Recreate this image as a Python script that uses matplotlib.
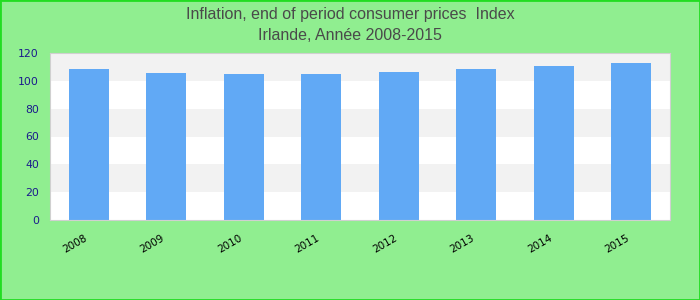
import numpy as np
import matplotlib
matplotlib.use("Agg")
import matplotlib.pyplot as plt
from matplotlib.patches import Rectangle
from matplotlib.transforms import ScaledTranslation

years = ["2008", "2009", "2010", "2011", "2012", "2013", "2014", "2015"]
values = [108.4, 105.5, 104.8, 104.8, 106.2, 108.4, 110.6, 112.7]
yticks = [0, 20, 40, 60, 80, 100, 120]

fig = plt.figure(figsize=(7, 3), dpi=100, facecolor="#90ee90")
ax = fig.add_axes([50/700, 80/300, 620/700, 167/300])
ax.set_facecolor("white")

# alternating horizontal bands
for i in range(len(yticks) - 1):
    if i % 2 == 1:
        ax.axhspan(yticks[i], yticks[i+1], color="#f2f2f2", zorder=0, lw=0)

x = np.arange(len(years))
ax.bar(x, values, width=0.516, color="#61a9f5", zorder=2)

ax.set_xlim(-0.5, len(years) - 0.5)
ax.set_ylim(0, 120)
ax.set_yticks(yticks)
ax.set_xticks(x)
ax.set_xticklabels(years, rotation=30, ha="right", fontsize=7.5, color="black")
off = ScaledTranslation(-6/100, 0, fig.dpi_scale_trans)
for lab in ax.get_xticklabels():
    lab.set_transform(lab.get_transform() + off)
ax.tick_params(axis="y", length=0, labelsize=7.8, labelcolor="#1a1a8c", pad=8)
ax.tick_params(axis="x", length=0, pad=9)
for s in ax.spines.values():
    s.set_color("#d0d0d0")

fig.text(0.5, 1 - 14/300, "Inflation, end of period consumer prices  Index",
         ha="center", va="center", fontsize=11.5, color="#4a4a4a", family="Liberation Sans")
fig.text(0.5, 1 - 36/300, "Irlande, Année 2008-2015",
         ha="center", va="center", fontsize=11.5, color="#4a4a4a", family="Liberation Sans")

fig.patches.append(Rectangle((0, 0), 1, 1, transform=fig.transFigure, fill=False,
                             edgecolor="#22dd22", lw=2))

fig.savefig("out.png", dpi=100, facecolor=fig.get_facecolor())
